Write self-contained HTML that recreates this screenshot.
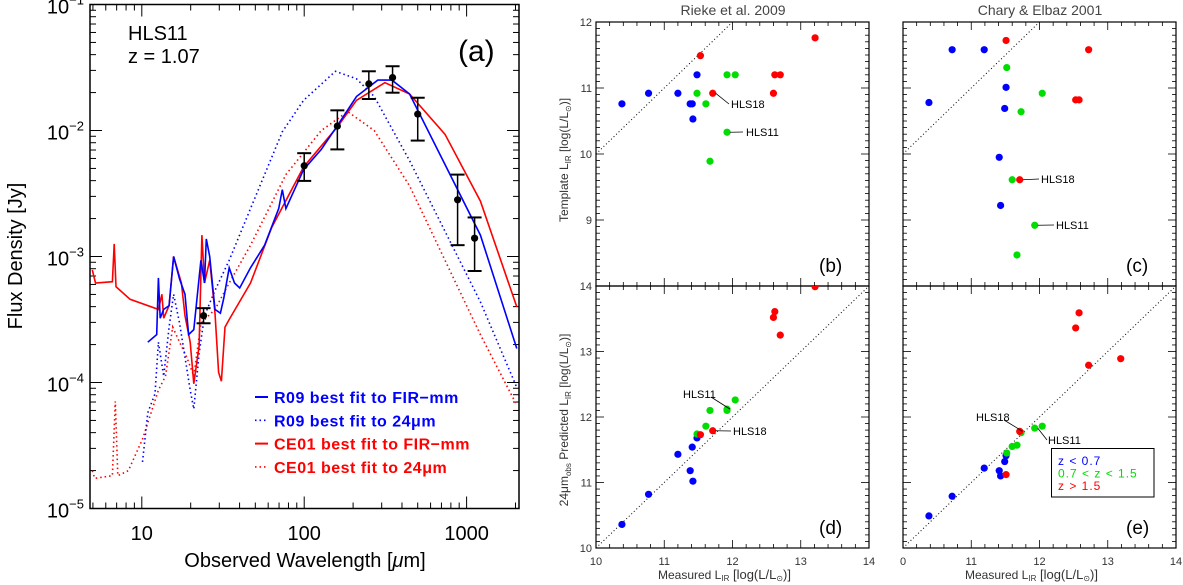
<!DOCTYPE html>
<html><head><meta charset="utf-8"><style>
html,body{margin:0;padding:0;background:#fff;overflow:hidden;width:1183px;height:585px}
svg{display:block;font-family:"Liberation Sans",sans-serif;overflow:hidden}
</style></head><body>
<svg id="fig" width="1183" height="585" viewBox="0 0 1183 585" xmlns="http://www.w3.org/2000/svg"></svg>
<script>
// ---------- Panel (a) data ----------
const obsWave = [24, 100, 160, 250, 350, 500, 880, 1120];
const obsLogFlux = [-3.47, -2.28, -1.965, -1.63, -1.58, -1.87, -2.55, -2.855];
const obsLogLo = [-3.53, -2.40, -2.15, -1.75, -1.70, -2.08, -2.91, -3.115];
const obsLogHi = [-3.41, -2.18, -1.84, -1.53, -1.49, -1.74, -2.35, -2.69];

const redSolidLogW = [0.695,0.715,0.819,0.830,0.841,0.928,1.102,1.124,1.135,1.168,1.196,1.244,1.266,1.298,1.320,1.353,1.370,1.386,1.418,1.451,1.473,1.490,1.512,1.538,1.669,1.800,1.996,2.205,2.322,2.497,2.649,2.867,3.085,3.309];
const redSolidLogF = [-3.106,-3.21,-3.20,-2.90,-3.24,-3.34,-3.42,-3.30,-3.49,-3.39,-3.00,-3.21,-3.47,-3.68,-4.01,-3.71,-2.83,-3.21,-3.03,-3.45,-3.92,-3.99,-3.56,-3.50,-3.21,-2.77,-2.29,-1.97,-1.76,-1.62,-1.71,-2.03,-2.56,-3.40];

const blueSolidLogW = [1.037,1.092,1.102,1.113,1.135,1.168,1.196,1.233,1.266,1.288,1.320,1.364,1.386,1.397,1.418,1.451,1.484,1.505,1.538,1.571,1.603,1.669,1.756,1.843,1.865,1.887,1.996,2.105,2.205,2.322,2.453,2.540,2.649,2.867,3.085,3.309];
const blueSolidLogF = [-3.68,-3.62,-3.17,-3.49,-3.42,-3.39,-3.00,-3.18,-3.30,-3.62,-3.58,-3.03,-3.21,-2.86,-3.00,-3.42,-3.45,-3.33,-3.09,-3.21,-3.25,-3.09,-2.91,-2.62,-2.47,-2.62,-2.31,-2.15,-1.96,-1.73,-1.60,-1.60,-1.71,-2.27,-2.83,-3.73];

const blueDotLogW = [1.004,1.037,1.081,1.102,1.135,1.168,1.196,1.233,1.266,1.298,1.320,1.353,1.386,1.451,1.538,1.669,1.865,1.996,2.192,2.322,2.431,2.649,2.867,3.085,3.309];
const blueDotLogF = [-4.63,-4.24,-4.09,-3.68,-3.95,-3.56,-3.30,-3.53,-3.80,-4.06,-4.21,-3.77,-3.47,-3.27,-3.03,-2.62,-2.01,-1.76,-1.53,-1.59,-1.73,-2.24,-2.80,-3.36,-4.04];

const redDotLogW = [0.695,0.710,0.819,0.837,0.852,0.917,1.004,1.102,1.146,1.190,1.233,1.277,1.320,1.364,1.451,1.538,1.669,1.887,2.105,2.268,2.431,2.649,2.867,3.085,3.309];
const redDotLogF = [-4.70,-4.76,-4.74,-4.15,-4.74,-4.70,-4.45,-4.06,-3.95,-3.56,-3.68,-3.80,-3.95,-3.53,-3.42,-3.21,-2.91,-2.35,-2.00,-1.85,-2.00,-2.44,-3.03,-3.62,-4.18];

const yDecades = [-1, -2, -3, -4, -5];
const xDecadeLabels = [10, 100, 1000];

// ---------- Scatter data (galaxies) ----------
const colorsGal = ["b","b","b","b","b","b","b","g","g","g","g","g","g","r","r","r","r","r","r"];
const rMeasured = [10.38,10.77,11.2,11.38,11.41,11.42,11.48, 11.48,11.61,11.92,12.04,11.92,11.67, 11.53,11.71,12.6,12.62,12.7,13.21];
const rTemplate = [10.76,10.92,10.92,10.76,10.76,10.53,11.2, 10.92,10.76,11.2,11.2,10.33,9.89, 11.49,10.92,10.92,11.2,11.2,11.76];
const rPredict  = [10.36,10.82,11.43,11.18,11.54,11.02,11.68, 11.74,11.86,12.12,12.26,12.1,12.1, 11.73,11.79,13.52,13.61,13.25,13.99];
const cColors   = ["b","b","b","b","b","b","b","g","g","g","g","g","g","r","r","r","r","r","r"];
const cMeasured = [10.38,10.72,11.19,11.49,11.51,11.41,11.43, 11.52,11.73,12.04,11.6,11.93,11.67, 11.51,11.71,12.53,12.58,12.72,13.19];
const cTemplate = [10.78,11.58,11.58,10.69,11.01,9.95,9.22, 11.31,10.64,10.92,9.61,8.92,8.47, 11.72,9.61,10.82,10.82,11.58,0];
const cPredict  = [10.49,10.79,11.22,11.32,11.41,11.18,11.1, 11.45,11.76,11.86,11.55,11.83,11.57, 11.12,11.78,13.36,13.59,12.79,12.89];
const scatterXTicks = [10, 11, 12, 13, 14];
const topYTicks = [9, 10, 11, 12];
const botYTicks = [10, 11, 12, 13, 14];

const NS = "http://www.w3.org/2000/svg";
const svg = document.getElementById("fig");
const COL = {b:"#0000ff", g:"#00dd00", r:"#ff0000"};
function el(tag, attrs, parent){const e=document.createElementNS(NS,tag);for(const k in attrs)e.setAttribute(k,attrs[k]);(parent||svg).appendChild(e);return e;}

// ---------- Panel (a) ----------
const AX0=90, AX1=519, AY0=4.5, AY1=508.5;
const LWMIN=0.681, XS=162.4, YS=126;
const ax = lw => AX0 + (lw - LWMIN)*XS;
const ay = lf => AY0 + (-1 - lf)*YS;
const ga = el("g", {});


const clipA = el("clipPath",{id:"clipA"},ga); el("rect",{x:AX0,y:AY0,width:AX1-AX0,height:AY1-AY0},clipA);
el("rect",{x:AX0,y:AY0,width:AX1-AX0,height:AY1-AY0,fill:"none",stroke:"#000","stroke-width":1.5},ga);
for(let d=0; d<4; d++){ for(let m=1;m<10;m++){ const v=Math.pow(10,d)*m; const lw=Math.log10(v); if(lw<LWMIN||lw>3.33) continue; const x=ax(lw); const L=m===1?12:6;
  el("line",{x1:x,y1:AY1,x2:x,y2:AY1-L,stroke:"#000","stroke-width":1},ga); el("line",{x1:x,y1:AY0,x2:x,y2:AY0+L,stroke:"#000","stroke-width":1},ga);} }
for(let d=-5; d<-1; d++){ for(let m=1;m<10;m++){ const lf=d+Math.log10(m); const y=ay(lf); const L=m===1?12:6;
  el("line",{x1:AX0,y1:y,x2:AX0+L,y2:y,stroke:"#000","stroke-width":1},ga); el("line",{x1:AX1,y1:y,x2:AX1-L,y2:y,stroke:"#000","stroke-width":1},ga);} }
yDecades.forEach(d=>{ const t=el("text",{x:84,y:ay(d)+9,"text-anchor":"end","font-size":20},ga);
   
  t.appendChild(document.createTextNode("10")); const s=el("tspan",{dy:-9,"font-size":13},t); s.textContent="\u2212"+(-d); });
xDecadeLabels.forEach(v=>{ const t=el("text",{x:ax(Math.log10(v)),y:540,"text-anchor":"middle","font-size":20},ga); t.textContent=v;
    });
const yt=el("text",{x:0,y:0,transform:"translate(22,256) rotate(-90)","text-anchor":"middle","font-size":20},ga); yt.textContent="Flux Density [Jy]";
 
const xt=el("text",{x:305,y:567,"text-anchor":"middle","font-size":20},ga); xt.innerHTML='Observed Wavelength [<tspan font-style="italic">μ</tspan>m]';
 
function curve(lw,lf,color,dash,name){ const p=el("path",{d:lw.map((w,i)=>(i?"L":"M")+ax(w).toFixed(1)+","+ay(lf[i]).toFixed(1)).join(""),fill:"none",stroke:color,"stroke-width":1.6,"stroke-dasharray":dash||"none","clip-path":"url(#clipA)"},ga);
    }
curve(redDotLogW,redDotLogF,"#ff0000","1.5,3","ce01-24um-fit");
curve(blueDotLogW,blueDotLogF,"#0000ff","1.5,3","r09-24um-fit");
curve(redSolidLogW,redSolidLogF,"#ff0000",null,"ce01-fir-fit");
curve(blueSolidLogW,blueSolidLogF,"#0000ff",null,"r09-fir-fit");
obsWave.forEach((w,i)=>{ const x=ax(Math.log10(w)); const g=el("g",{},ga);
   
  el("line",{x1:x,y1:ay(obsLogLo[i]),x2:x,y2:ay(obsLogHi[i]),stroke:"#000","stroke-width":1.5},g);
  el("line",{x1:x-7,y1:ay(obsLogLo[i]),x2:x+7,y2:ay(obsLogLo[i]),stroke:"#000","stroke-width":2},g);
  el("line",{x1:x-7,y1:ay(obsLogHi[i]),x2:x+7,y2:ay(obsLogHi[i]),stroke:"#000","stroke-width":2},g);
  el("circle",{cx:x,cy:ay(obsLogFlux[i]),r:3.6,fill:"#000"},g); });
const t1=el("text",{x:128,y:40,"font-size":20},ga); t1.textContent="HLS11";  
const t2=el("text",{x:128,y:63,"font-size":20},ga); t2.textContent="z = 1.07";  
const t3=el("text",{x:458,y:61,"font-size":30},ga); t3.textContent="(a)";  
const legA=[["R09 best fit to FIR\u2212mm","#0000ff",null],["R09 best fit to 24\u03bcm","#0000ff","1.5,3"],["CE01 best fit to FIR\u2212mm","#ff0000",null],["CE01 best fit to 24\u03bcm","#ff0000","1.5,3"]];
legA.forEach((L,i)=>{ const y=397+i*23.3; const g=el("g",{},ga);  
  el("line",{x1:255,y1:y,x2:268,y2:y,stroke:L[1],"stroke-width":L[2]?1.6:2,"stroke-dasharray":L[2]||"none"},g);
  const t=el("text",{x:274,y:y+6,"font-size":16,"font-weight":"bold",fill:L[1],"letter-spacing":"0.5"},g); t.textContent=L[0]; });

// ---------- Scatter panels ----------
function panel(x0,y0,w,h,ymin,ymax,xs,ys,cols,name,label,showXLabels,yticks,diagTo){
  const g=el("g",{});  
  const X=v=>x0+(v-10)/4*w, Y=v=>y0+h-(v-ymin)/(ymax-ymin)*h;
  const cid="clip"+name; const cp=el("clipPath",{id:cid},g); el("rect",{x:x0,y:y0,width:w,height:h},cp);
  el("rect",{x:x0,y:y0,width:w,height:h,fill:"none",stroke:"#000","stroke-width":1.2},g);
  for(let k=0;k<=40;k++){ const v=10+k*0.1; if(k%2 && k%10) continue; const x=X(v); const L=(k%10===0)?8:4;
    el("line",{x1:x,y1:y0+h,x2:x,y2:y0+h-L,stroke:"#000","stroke-width":0.8},g); el("line",{x1:x,y1:y0,x2:x,y2:y0+L,stroke:"#000","stroke-width":0.8},g); }
  for(let k=0;k<=40;k++){ const v=ymin+k*0.1; const y=Y(v); const L=(k%10===0)?8:4;
    el("line",{x1:x0,y1:y,x2:x0+L,y2:y,stroke:"#000","stroke-width":0.8},g); el("line",{x1:x0+w,y1:y,x2:x0+w-L,y2:y,stroke:"#000","stroke-width":0.8},g); }
  el("line",{x1:X(10),y1:Y(10),x2:X(diagTo),y2:Y(diagTo),stroke:"#000","stroke-width":1,"stroke-dasharray":"1,2.5","clip-path":"url(#"+cid+")"},g);
  xs.forEach((v,i)=>{ const c=el("circle",{cx:X(v),cy:Y(ys[i]),r:3.6,fill:COL[cols[i]],"clip-path":"url(#"+cid+")"},g);
      });
  const pl=el("text",{x:x0+w-50,y:y0+h-14,"font-size":19},g); pl.textContent=label;
   
  if(showXLabels){ scatterXTicks.forEach(v=>{ const t=el("text",{x:X(v),y:y0+h+17,"text-anchor":"middle","font-size":11,fill:"#333"},g); t.textContent=(v===10&&x0>880)?"0":v;
      });
    const t=el("text",{x:x0+w/2-8,y:y0+h+31,"text-anchor":"middle","font-size":12,fill:"#333"},g);
    t.innerHTML='Measured L<tspan font-size="8" dy="2">IR</tspan><tspan dy="-2" font-size="13"> [log(L/L</tspan><tspan font-size="8" dy="2">\u2299</tspan><tspan dy="-2" font-size="13">)]</tspan>';
      }
  if(yticks){ yticks.forEach(v=>{ const t=el("text",{x:x0-4,y:Y(v)+4,"text-anchor":"end","font-size":11,fill:"#333"},g); t.textContent=v;
      }); }
  return {X,Y,g};
}
const pb=panel(596,22,273,264,8,12,rMeasured,rTemplate,colorsGal,"panel-b","(b)",false,topYTicks,12);
const pc=panel(903,22,273,264,8,12,cMeasured,cTemplate,cColors,"panel-c","(c)",false,null,12);
const pd=panel(596,286,273,262,10,14,rMeasured,rPredict,colorsGal,"panel-d","(d)",true,botYTicks,14);
const pe=panel(903,286,273,262,10,14,cMeasured,cPredict,cColors,"panel-e","(e)",true,null,14);
function ann(p,px,py,lx,ly,tx,ty,txt){ el("line",{x1:p.X(px)+3,y1:p.Y(py),x2:lx,y2:ly,stroke:"#000","stroke-width":0.8},p.g);
  const t=el("text",{x:tx,y:ty,"font-size":11},p.g); t.textContent=txt;   }
ann(pb,11.71,10.92,729,104,731,108,"HLS18");
ann(pb,11.92,10.33,743,132,746,136,"HLS11");
ann(pc,11.71,9.61,1039,179,1041,183,"HLS18");
ann(pc,11.93,8.92,1054,225,1056,229,"HLS11");
ann(pd,11.92,12.12,711,397,683,398,"HLS11");
ann(pd,11.71,11.79,731,431,733,435,"HLS18");
ann(pe,11.71,11.78,1004,420,976,421,"HLS18");
ann(pe,11.93,11.83,1047,440,1048,444,"HLS11");
const tb=el("text",{x:733,y:15,"text-anchor":"middle","font-size":14,fill:"#444"}); tb.textContent="Rieke et al. 2009";
 
const tc=el("text",{x:1040,y:15,"text-anchor":"middle","font-size":14,fill:"#444"}); tc.textContent="Chary & Elbaz 2001";
 
const ty1=el("text",{transform:"translate(568,160) rotate(-90)","text-anchor":"middle","font-size":12,fill:"#333"});
ty1.innerHTML='Template L<tspan font-size="8" dy="3">IR</tspan><tspan dy="-3"> [log(L/L</tspan><tspan font-size="8" dy="3">\u2299</tspan><tspan dy="-3">)]</tspan>';
 
const ty2=el("text",{transform:"translate(568,420) rotate(-90)","text-anchor":"middle","font-size":12,fill:"#333"});
ty2.innerHTML='24μm<tspan font-size="8" dy="3">obs</tspan><tspan dy="-3"> Predicted L</tspan><tspan font-size="8" dy="3">IR</tspan><tspan dy="-3"> [log(L/L</tspan><tspan font-size="8" dy="3">\u2299</tspan><tspan dy="-3">)]</tspan>';
 
const lg=el("g",{});  
el("rect",{x:1051.5,y:448.5,width:102.5,height:48.5,fill:"#fff",stroke:"#000","stroke-width":1},lg);
[["z < 0.7","#0000ff"],["0.7 < z < 1.5","#00dd00"],["z > 1.5","#ff0000"]].forEach((L,i)=>{ const t=el("text",{x:1058,y:465+i*12.5,"font-size":12,fill:L[1],"letter-spacing":"1"},lg); t.textContent=L[0];
    });
</script>
</body></html>
